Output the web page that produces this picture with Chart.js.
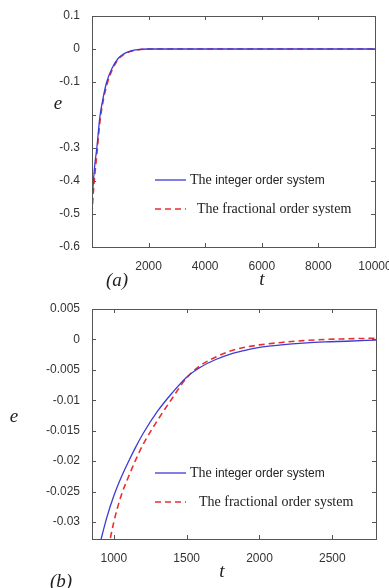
<!DOCTYPE html>
<html>
<head>
<meta charset="utf-8">
<script src="https://cdn.jsdelivr.net/npm/chart.js@4.4.1/dist/chart.umd.min.js"></script>
<style>
  body { margin: 0; background: #fff; width: 389px; height: 588px; overflow: hidden; position: relative; }
  canvas { position: absolute; left: 0; }
  #chartA { top: 0; }
  #chartB { top: 290px; }
</style>
</head>
<body>
<canvas id="chartA" width="389" height="290"></canvas>
<canvas id="chartB" width="389" height="298"></canvas>
<script>
// series labels
const seriesNames = ["The integer order system", "The fractional order system"];

// (a) full run
const tA = [0, 50, 100, 170, 280, 400, 520, 700, 930, 1100, 1300, 1600, 2000, 3000, 10000];
const integerA = [-0.46, -0.40, -0.35, -0.30, -0.205, -0.145, -0.10, -0.06, -0.028, -0.016, -0.008, -0.002, 0, 0, 0];
const fractionalA = [-0.50, -0.43, -0.38, -0.32, -0.22, -0.155, -0.11, -0.066, -0.031, -0.018, -0.009, -0.003, 0, 0, 0];
const xTicksA = [0, 2000, 4000, 6000, 8000, 10000];
const yTicksA = [-0.6, -0.5, -0.4, -0.3, -0.2, -0.1, 0, 0.1];

// (b) zoomed part
const tB = [900, 950, 1000, 1050, 1100, 1150, 1200, 1300, 1400, 1500, 1600, 1700, 1800, 1900, 2000, 2150, 2300, 2450, 2600, 2800];
const integerB = [-0.0340, -0.0294, -0.0257, -0.0227, -0.0201, -0.0177, -0.0155, -0.0118, -0.0088, -0.0062, -0.0045, -0.0033, -0.0024, -0.0018, -0.0013, -0.0009, -0.0006, -0.0004, -0.0003, -0.0001];
const fractionalB = [-0.0440, -0.0360, -0.0300, -0.0257, -0.0226, -0.0198, -0.0173, -0.0133, -0.0097, -0.0063, -0.0042, -0.0029, -0.0019, -0.0013, -0.0009, -0.0005, -0.0002, 0.0000, 0.0001, 0.0002];
const xTicksB = [1000, 1500, 2000, 2500];
const yTicksB = [-0.03, -0.025, -0.02, -0.015, -0.01, -0.005, 0, 0.005];

const BLUE = "#3b3bd6";
const RED = "#e8302e";
const SERIF = "'Liberation Serif', 'Times New Roman', serif";
const SANS = "'Liberation Sans', Arial, sans-serif";

// matlab style frame, inward ticks, legend and axis names
const frame = {
  id: "frame",
  afterDraw(chart, args, opts) {
    const ctx = chart.ctx, a = chart.chartArea;
    const xs = chart.scales.x, ys = chart.scales.y;
    ctx.save();
    ctx.strokeStyle = "#555";
    ctx.lineWidth = 1;
    ctx.strokeRect(Math.round(a.left) + 0.5, Math.round(a.top) + 0.5, Math.round(a.right - a.left), Math.round(a.bottom - a.top));
    ctx.beginPath();
    xs.ticks.forEach(t => {
      const p = Math.round(xs.getPixelForValue(t.value)) + 0.5;
      ctx.moveTo(p, a.top); ctx.lineTo(p, a.top + 4);
      ctx.moveTo(p, a.bottom); ctx.lineTo(p, a.bottom - 4);
    });
    ys.ticks.forEach(t => {
      const p = Math.round(ys.getPixelForValue(t.value)) + 0.5;
      ctx.moveTo(a.left, p); ctx.lineTo(a.left + 4, p);
      ctx.moveTo(a.right, p); ctx.lineTo(a.right - 4, p);
    });
    ctx.stroke();

    // legend
    chart.data.datasets.forEach((ds, i) => {
      const y = a.top + opts.legendY[i];
      const x0 = a.left + 63;
      ctx.beginPath();
      ctx.strokeStyle = ds.borderColor;
      ctx.lineWidth = ds.borderWidth;
      ctx.setLineDash(ds.borderDash || []);
      ctx.moveTo(x0, y); ctx.lineTo(x0 + 31, y);
      ctx.stroke();
      ctx.setLineDash([]);
      ctx.fillStyle = "#222";
      ctx.textBaseline = "middle";
      ctx.textAlign = "left";
      const words = ds.label.split(" ");
      let tx = x0 + opts.textGap[i];
      ctx.font = "14px " + SERIF;
      ctx.fillText(words[0], tx, y);
      tx += ctx.measureText(words[0] + " ").width;
      const rest = words.slice(1).join(" ");
      if (i === 0) {
        ctx.font = "12px " + SANS;
        ctx.fillText(rest, tx, y + 1);
      } else {
        ctx.fillText(rest, tx, y);
      }
    });

    // axis names
    ctx.fillStyle = "#222";
    ctx.font = "italic 19px " + SERIF;
    ctx.textAlign = "center";
    ctx.textBaseline = "middle";
    opts.texts.forEach(t => ctx.fillText(t.text, t.x, t.y));
    ctx.restore();
  }
};

function fmt(v) {
  const s = String(+v.toFixed(4));
  return s === "-0" ? "0" : s;
}

function makeChart(id, t, s1, s2, xr, yr, xt, yt, o) {
  return new Chart(document.getElementById(id), {
    type: "line",
    data: {
      datasets: [
        { label: seriesNames[0], data: t.map((x, i) => ({ x: x, y: s1[i] })), borderColor: BLUE, borderWidth: 1.3, pointRadius: 0, cubicInterpolationMode: "monotone" },
        { label: seriesNames[1], data: t.map((x, i) => ({ x: x, y: s2[i] })), borderColor: RED, borderWidth: 1.6, borderDash: [6, 4], pointRadius: 0, cubicInterpolationMode: "monotone" }
      ]
    },
    options: {
      responsive: false,
      animation: false,
      devicePixelRatio: 1,
      layout: { padding: { left: 0, right: o.right, top: o.top, bottom: 0 } },
      plugins: {
        legend: { display: false },
        tooltip: { enabled: false },
        frame: { legendY: [164, 193], textGap: o.textGap, texts: o.texts }
      },
      scales: {
        x: {
          type: "linear", min: xr[0], max: xr[1],
          grid: { display: false }, border: { display: false },
          afterBuildTicks: s => { s.ticks = xt.map(v => ({ value: v })); },
          ticks: { maxRotation: 0, padding: 4, color: "#333", font: { family: SANS, size: 12 },
            callback: v => (v === 0 ? "" : String(v)) },
          afterFit: s => { s.height = o.xh; s.paddingRight = 0; s.paddingLeft = 0; }
        },
        y: {
          type: "linear", min: yr[0], max: yr[1],
          grid: { display: false }, border: { display: false },
          afterBuildTicks: s => { s.ticks = yt.map(v => ({ value: v })); },
          ticks: { padding: 4, color: "#333", font: { family: SANS, size: 12 },
            callback: v => (o.hide.some(h => Math.abs(h - v) < 1e-9) ? "" : fmt(v)) },
          afterFit: s => { s.width = 92; s.paddingTop = 0; s.paddingBottom = 0; }
        }
      }
    },
    plugins: [frame]
  });
}

makeChart("chartA", tA, integerA, fractionalA, [0, 10000], [-0.6, 0.1], xTicksA, yTicksA, {
  right: 14, top: 16, xh: 43, hide: [-0.2], textGap: [35, 42],
  texts: [{ text: "e", x: 58, y: 104 }, { text: "t", x: 262, y: 280 }, { text: "(a)", x: 117, y: 281 }]
});

makeChart("chartB", tB, integerB, fractionalB, [850, 2800], [-0.0328, 0.005], xTicksB, yTicksB, {
  right: 13, top: 19, xh: 49, hide: [], textGap: [35, 44],
  texts: [{ text: "e", x: 14, y: 127 }, { text: "t", x: 222, y: 282 }, { text: "(b)", x: 61, y: 292 }]
});
</script>
</body>
</html>
